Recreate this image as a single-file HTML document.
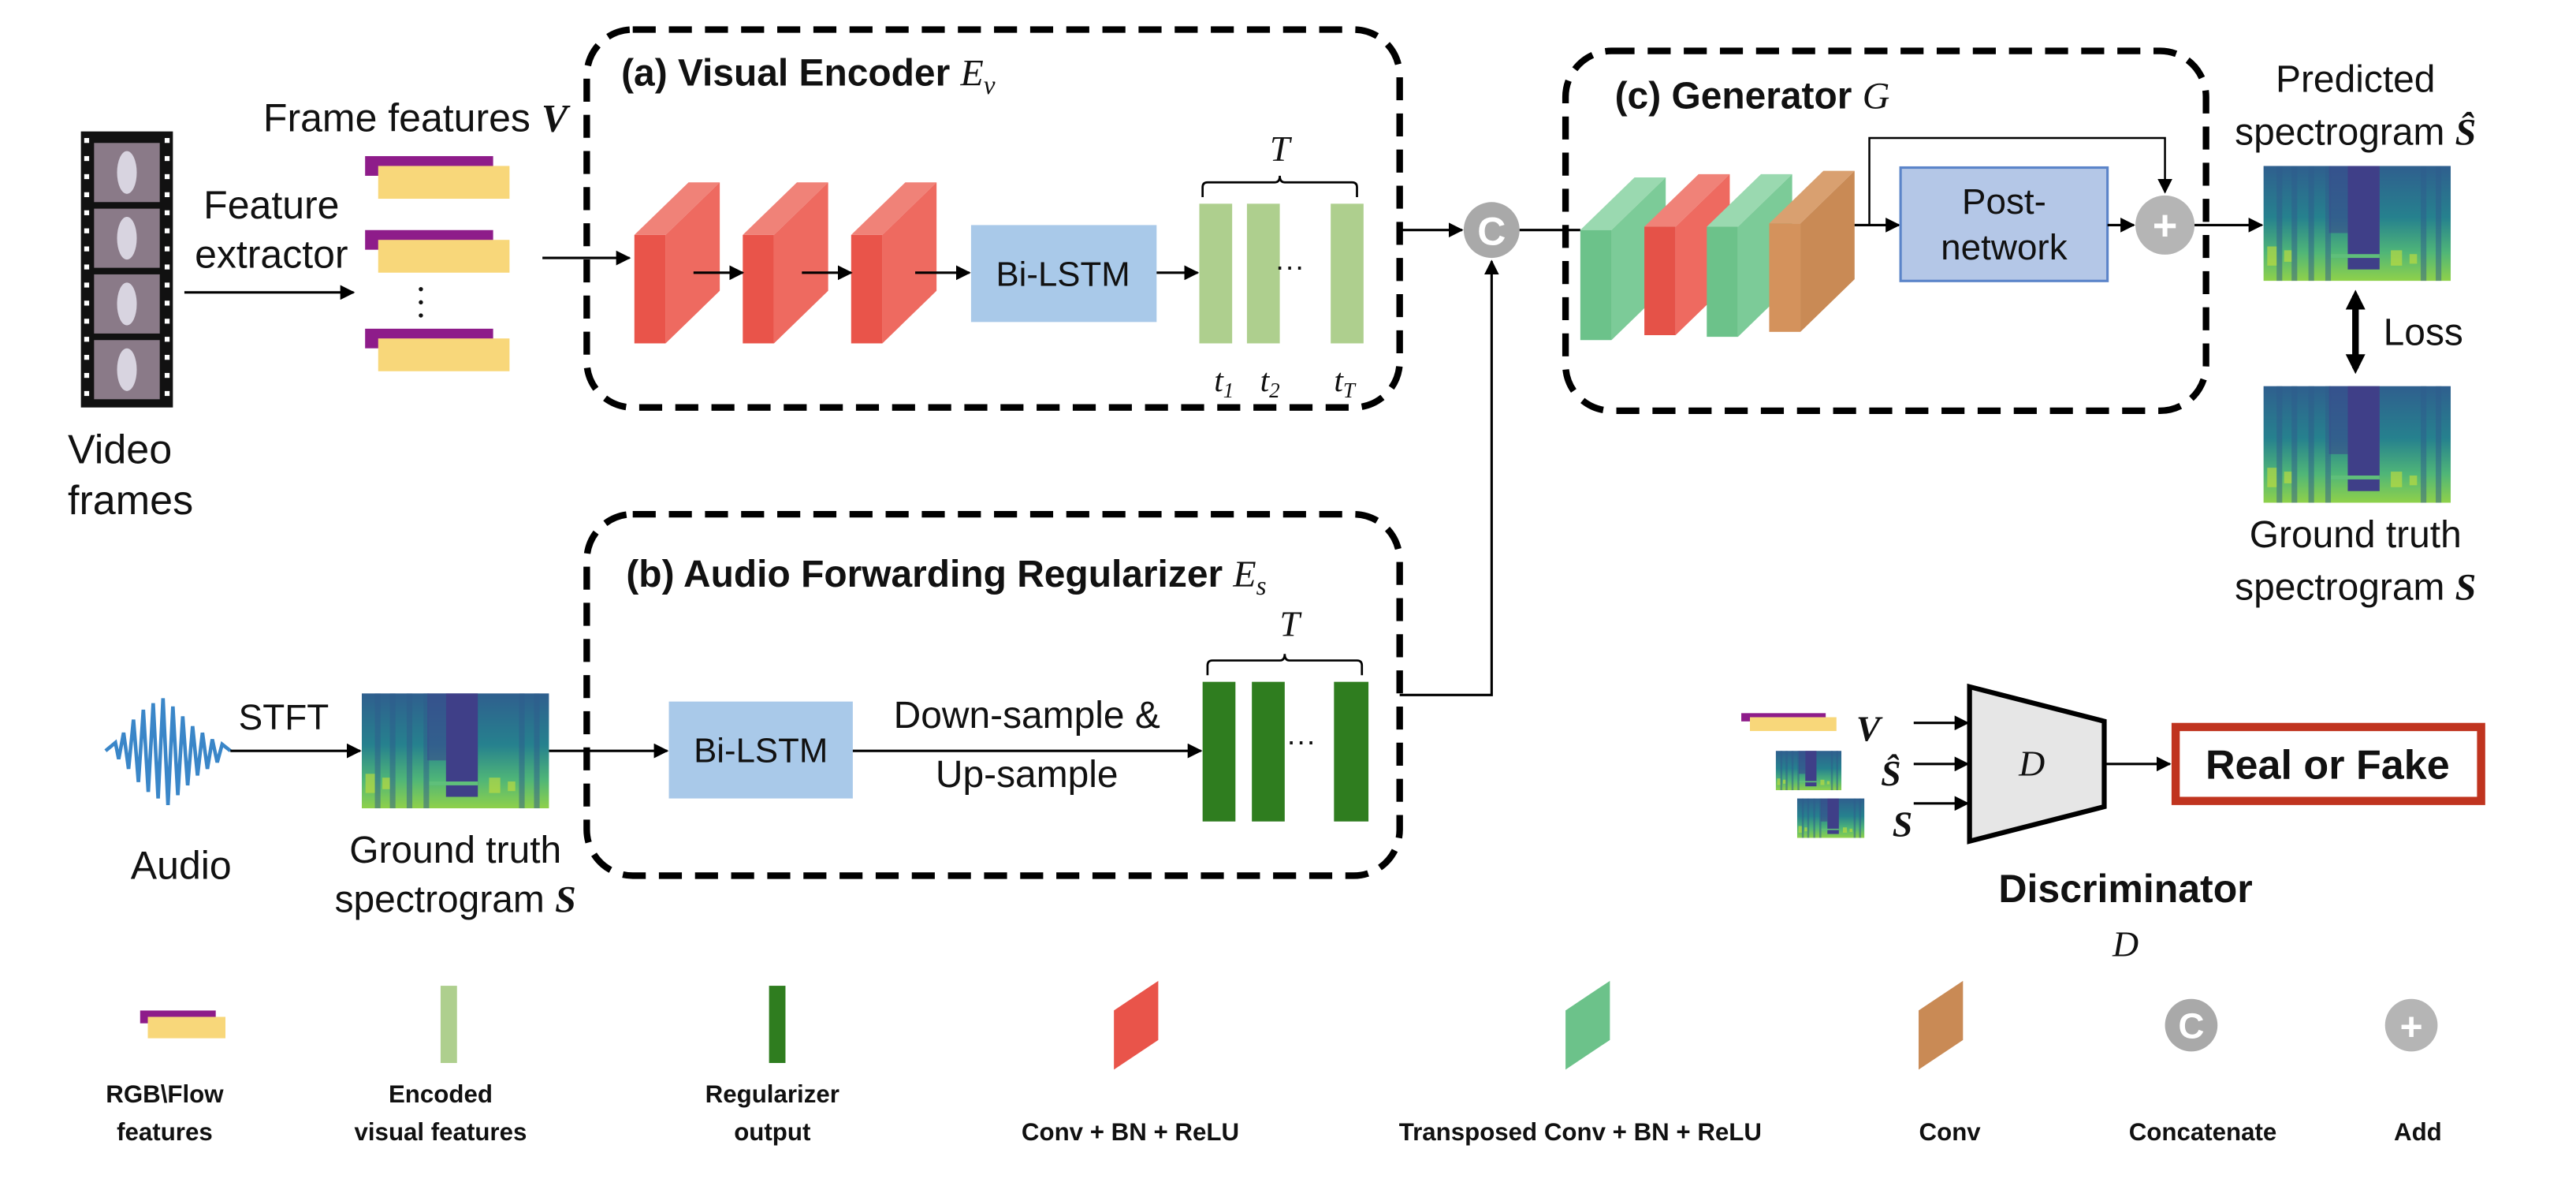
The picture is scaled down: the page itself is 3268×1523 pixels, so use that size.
<!DOCTYPE html>
<html><head><meta charset="utf-8"><style>
html,body{margin:0;padding:0;background:#fff;}
svg{display:block;}
text{font-family:"Liberation Sans",sans-serif;fill:#111;}
.m{font-family:"Liberation Serif",serif;font-style:italic;}
.b{font-weight:bold;}
</style></head><body>
<svg width="3268" height="1523" viewBox="0 0 1568 731" xmlns="http://www.w3.org/2000/svg">
<defs>
<marker id="ar" viewBox="0 0 10 10" refX="9" refY="5" markerWidth="9" markerHeight="9" markerUnits="userSpaceOnUse" orient="auto"><path d="M0,0 L10,5 L0,10 z" fill="#000"/></marker>
<marker id="arb" viewBox="0 0 10 10" refX="7" refY="5" markerWidth="12" markerHeight="12" markerUnits="userSpaceOnUse" orient="auto-start-reverse"><path d="M0,0 L10,5 L0,10 z" fill="#000"/></marker>
<linearGradient id="sg" x1="0" y1="0" x2="0" y2="1">
<stop offset="0" stop-color="#2f5f8e"/><stop offset="0.45" stop-color="#26818e"/><stop offset="0.75" stop-color="#4fb578"/><stop offset="1" stop-color="#8fd14a"/></linearGradient>
<symbol id="spec" viewBox="0 0 100 60" preserveAspectRatio="none">
<rect width="100" height="60" fill="url(#sg)"/>
<g fill="#2e5d8c" opacity="0.5"><rect x="7" y="0" width="3" height="60"/><rect x="15" y="0" width="3" height="60"/><rect x="24" y="0" width="3" height="60"/><rect x="33" y="0" width="3" height="60"/><rect x="84" y="0" width="3" height="60"/><rect x="92" y="0" width="3" height="60"/></g>
<rect x="45" y="0" width="17" height="54" fill="#3f3f88"/>
<rect x="35" y="0" width="10" height="35" fill="#3a4a8c" opacity="0.6"/>
<rect x="36" y="46" width="26" height="2" fill="#5fbf7a"/>
<g fill="#c8e03a" opacity="0.6"><rect x="2" y="42" width="5" height="10"/><rect x="11" y="44" width="4" height="6"/><rect x="68" y="44" width="6" height="8"/><rect x="78" y="46" width="4" height="5"/></g>
</symbol>
<symbol id="feat" viewBox="0 0 88 26" preserveAspectRatio="none">
<rect x="0" y="0" width="78" height="12" fill="#8e1c8a"/>
<rect x="8" y="6" width="80" height="20" fill="#f8d77a"/>
</symbol>
</defs>

<!-- Film strip -->
<rect x="49" y="80" width="56" height="168" fill="#111"/>
<g fill="#fff">
<rect x="51" y="84" width="3" height="3"/><rect x="51" y="95" width="3" height="3"/><rect x="51" y="106" width="3" height="3"/><rect x="51" y="117" width="3" height="3"/><rect x="51" y="128" width="3" height="3"/><rect x="51" y="139" width="3" height="3"/><rect x="51" y="150" width="3" height="3"/><rect x="51" y="161" width="3" height="3"/><rect x="51" y="172" width="3" height="3"/><rect x="51" y="183" width="3" height="3"/><rect x="51" y="194" width="3" height="3"/><rect x="51" y="205" width="3" height="3"/><rect x="51" y="216" width="3" height="3"/><rect x="51" y="227" width="3" height="3"/><rect x="51" y="238" width="3" height="3"/>
<rect x="100" y="84" width="3" height="3"/><rect x="100" y="95" width="3" height="3"/><rect x="100" y="106" width="3" height="3"/><rect x="100" y="117" width="3" height="3"/><rect x="100" y="128" width="3" height="3"/><rect x="100" y="139" width="3" height="3"/><rect x="100" y="150" width="3" height="3"/><rect x="100" y="161" width="3" height="3"/><rect x="100" y="172" width="3" height="3"/><rect x="100" y="183" width="3" height="3"/><rect x="100" y="194" width="3" height="3"/><rect x="100" y="205" width="3" height="3"/><rect x="100" y="216" width="3" height="3"/><rect x="100" y="227" width="3" height="3"/><rect x="100" y="238" width="3" height="3"/>
</g>
<g fill="#8a7a88"><rect x="57" y="87" width="40" height="36"/><rect x="57" y="127" width="40" height="36"/><rect x="57" y="167" width="40" height="36"/><rect x="57" y="207" width="40" height="36"/></g>
<g fill="#d8d4e0"><ellipse cx="77" cy="105" rx="6" ry="13"/><ellipse cx="77" cy="145" rx="6" ry="13"/><ellipse cx="77" cy="185" rx="6" ry="13"/><ellipse cx="77" cy="225" rx="6" ry="13"/></g>
<text x="41" y="282" font-size="25">Video</text>
<text x="41" y="313" font-size="25">frames</text>

<text x="160" y="80" font-size="24">Frame features <tspan class="m b">V</tspan></text>
<text x="165" y="133" font-size="24" text-anchor="middle">Feature</text>
<text x="165" y="163" font-size="24" text-anchor="middle">extractor</text>
<line x1="112" y1="178" x2="215" y2="178" stroke="#000" stroke-width="1.5" marker-end="url(#ar)"/>
<use href="#feat" x="222" y="95" width="88" height="26"/>
<use href="#feat" x="222" y="140" width="88" height="26"/>
<use href="#feat" x="222" y="200" width="88" height="26"/>
<g fill="#111"><circle cx="256" cy="176" r="1.3"/><circle cx="256" cy="184" r="1.3"/><circle cx="256" cy="192" r="1.3"/></g>
<line x1="330" y1="157" x2="383" y2="157" stroke="#000" stroke-width="1.5" marker-end="url(#ar)"/>

<!-- Visual encoder -->
<rect x="357" y="18" width="495" height="230" rx="28" fill="none" stroke="#000" stroke-width="4" stroke-dasharray="14 8"/>
<text x="378" y="52" font-size="23" class="b">(a) Visual Encoder <tspan class="m" font-weight="normal">E<tspan font-size="16" dy="5">v</tspan></tspan></text>
<g id="rb">
<polygon points="386,143 419,111 438,111 405,143" fill="#f08278"/>
<polygon points="405,143 438,111 438,177 405,209" fill="#ee6a60"/>
<rect x="386" y="143" width="19" height="66" fill="#e9544a"/>
</g>
<use href="#rb" x="66"/>
<use href="#rb" x="132"/>
<line x1="422" y1="166" x2="452" y2="166" stroke="#000" stroke-width="1.5" marker-end="url(#ar)"/>
<line x1="488" y1="166" x2="518" y2="166" stroke="#000" stroke-width="1.5" marker-end="url(#ar)"/>
<line x1="557" y1="166" x2="590" y2="166" stroke="#000" stroke-width="1.5" marker-end="url(#ar)"/>
<rect x="591" y="137" width="113" height="59" fill="#a9c9e9"/>
<text x="647" y="174" font-size="21" text-anchor="middle">Bi-LSTM</text>
<line x1="704" y1="166" x2="729" y2="166" stroke="#000" stroke-width="1.5" marker-end="url(#ar)"/>
<g fill="#aecf8e"><rect x="730" y="124" width="20" height="85"/><rect x="759" y="124" width="20" height="85"/><rect x="810" y="124" width="20" height="85"/></g>
<text x="785" y="168" font-size="18" text-anchor="middle">···</text>
<path d="M732,120 v-6 q0,-3 3,-3 h41 q3,0 3,-4 q0,4 3,4 h41 q3,0 3,3 v6" fill="none" stroke="#000" stroke-width="1.3"/>
<text x="779" y="98" font-size="22" class="m" text-anchor="middle">T</text>
<text x="739" y="238" font-size="20" class="m">t<tspan font-size="13" dy="4">1</tspan></text>
<text x="767" y="238" font-size="20" class="m">t<tspan font-size="13" dy="4">2</tspan></text>
<text x="812" y="238" font-size="20" class="m">t<tspan font-size="13" dy="4">T</tspan></text>

<!-- Concat -->
<line x1="852" y1="140" x2="890" y2="140" stroke="#000" stroke-width="1.5" marker-end="url(#ar)"/>
<circle cx="908" cy="140" r="17" fill="#a9a9a9"/>
<text x="908" y="149" font-size="24" class="b" style="fill:#fff" text-anchor="middle">C</text>
<polyline points="852,423 908,423 908,159" fill="none" stroke="#000" stroke-width="1.5" marker-end="url(#ar)"/>
<line x1="925" y1="140" x2="962" y2="140" stroke="#000" stroke-width="1.5"/>

<!-- Generator -->
<rect x="953" y="31" width="390" height="219" rx="28" fill="none" stroke="#000" stroke-width="4" stroke-dasharray="14 8"/>
<text x="983" y="66" font-size="23" class="b">(c) Generator <tspan class="m" font-weight="normal">G</tspan></text>
<g id="gb">
<polygon points="962,140 995,108 1014,108 981,140" fill="#9ad9b0"/>
<polygon points="981,140 1014,108 1014,175 981,207" fill="#7ccb98"/>
<rect x="962" y="140" width="19" height="67" fill="#6cc28a"/>
</g>
<g>
<polygon points="1001,138 1034,106 1053,106 1020,138" fill="#f08278"/>
<polygon points="1020,138 1053,106 1053,172 1020,204" fill="#ee6a60"/>
<rect x="1001" y="138" width="19" height="66" fill="#e55248"/>
</g>
<use href="#gb" x="77" y="-2"/>
<g>
<polygon points="1077,136 1110,104 1129,104 1096,136" fill="#d9a070"/>
<polygon points="1096,136 1129,104 1129,170 1096,202" fill="#c98a55"/>
<rect x="1077" y="136" width="19" height="66" fill="#d4925c"/>
</g>
<line x1="1129" y1="137" x2="1156" y2="137" stroke="#000" stroke-width="1.5" marker-end="url(#ar)"/>
<polyline points="1138,137 1138,84 1318,84 1318,117" fill="none" stroke="#000" stroke-width="1.2" marker-end="url(#ar)"/>
<rect x="1157" y="102" width="126" height="69" fill="#b4c7e7" stroke="#5b84c9" stroke-width="1.5"/>
<text x="1220" y="130" font-size="22" text-anchor="middle">Post-</text>
<text x="1220" y="158" font-size="22" text-anchor="middle">network</text>
<line x1="1283" y1="137" x2="1299" y2="137" stroke="#000" stroke-width="1.5" marker-end="url(#ar)"/>
<circle cx="1318" cy="137" r="18" fill="#b5b5b5"/>
<text x="1318" y="146" font-size="26" class="b" style="fill:#fff" text-anchor="middle">+</text>
<line x1="1336" y1="137" x2="1377" y2="137" stroke="#000" stroke-width="1.5" marker-end="url(#ar)"/>

<text x="1434" y="56" font-size="23" text-anchor="middle">Predicted</text>
<text x="1434" y="88" font-size="23" text-anchor="middle">spectrogram <tspan class="m b">Ŝ</tspan></text>
<use href="#spec" x="1378" y="101" width="114" height="70"/>
<line x1="1434" y1="180" x2="1434" y2="224" stroke="#000" stroke-width="4" marker-start="url(#arb)" marker-end="url(#arb)"/>
<text x="1451" y="210" font-size="23">Loss</text>
<use href="#spec" x="1378" y="235" width="114" height="71"/>
<text x="1434" y="333" font-size="23" text-anchor="middle">Ground truth</text>
<text x="1434" y="365" font-size="23" text-anchor="middle">spectrogram <tspan class="m b">S</tspan></text>

<!-- Audio -->
<g stroke="#3a86c8" stroke-width="2.2" fill="none">
<path d="M64,457 L70,452 L72,462 L75,446 L78,468 L81,438 L84,476 L87,432 L90,482 L93,428 L96,486 L99,425 L102,490 L105,430 L108,484 L111,436 L114,478 L117,442 L120,472 L123,446 L126,468 L129,450 L132,464 L135,453 L140,457"/>
</g>
<text x="110" y="535" font-size="24" text-anchor="middle">Audio</text>
<text x="145" y="444" font-size="22">STFT</text>
<line x1="140" y1="457" x2="219" y2="457" stroke="#000" stroke-width="1.5" marker-end="url(#ar)"/>
<use href="#spec" x="220" y="422" width="114" height="70"/>
<text x="277" y="525" font-size="23" text-anchor="middle">Ground truth</text>
<text x="277" y="555" font-size="23" text-anchor="middle">spectrogram <tspan class="m b">S</tspan></text>
<line x1="334" y1="457" x2="406" y2="457" stroke="#000" stroke-width="1.5" marker-end="url(#ar)"/>

<!-- Regularizer -->
<rect x="357" y="313" width="495" height="220" rx="28" fill="none" stroke="#000" stroke-width="4" stroke-dasharray="14 8"/>
<text x="381" y="357" font-size="23" class="b">(b) Audio Forwarding Regularizer <tspan class="m" font-weight="normal">E<tspan font-size="16" dy="5">s</tspan></tspan></text>
<rect x="407" y="427" width="112" height="59" fill="#a9c9e9"/>
<text x="463" y="464" font-size="21" text-anchor="middle">Bi-LSTM</text>
<line x1="519" y1="457" x2="731" y2="457" stroke="#000" stroke-width="1.5" marker-end="url(#ar)"/>
<text x="625" y="443" font-size="23" text-anchor="middle">Down-sample &amp;</text>
<text x="625" y="479" font-size="23" text-anchor="middle">Up-sample</text>
<g fill="#2f7d1f"><rect x="732" y="415" width="20" height="85"/><rect x="762" y="415" width="20" height="85"/><rect x="812" y="415" width="21" height="85"/></g>
<text x="792" y="457" font-size="18" text-anchor="middle">···</text>
<path d="M735,411 v-6 q0,-3 3,-3 h41 q3,0 3,-4 q0,4 3,4 h41 q3,0 3,3 v6" fill="none" stroke="#000" stroke-width="1.3"/>
<text x="785" y="387" font-size="22" class="m" text-anchor="middle">T</text>

<!-- Discriminator -->
<use href="#feat" x="1060" y="434" width="58" height="11"/>
<text x="1130" y="451" font-size="22" class="m b">V</text>
<use href="#spec" x="1081" y="457" width="40" height="24"/>
<use href="#spec" x="1094" y="486" width="41" height="24"/>
<text x="1145" y="478" font-size="22" class="m b">Ŝ</text>
<text x="1152" y="509" font-size="22" class="m b">S</text>
<line x1="1165" y1="440" x2="1198" y2="440" stroke="#000" stroke-width="1.5" marker-end="url(#ar)"/>
<line x1="1165" y1="465" x2="1198" y2="465" stroke="#000" stroke-width="1.5" marker-end="url(#ar)"/>
<line x1="1165" y1="489" x2="1198" y2="489" stroke="#000" stroke-width="1.5" marker-end="url(#ar)"/>
<polygon points="1199,418 1281,439 1281,491 1199,512" fill="#e6e6e6" stroke="#000" stroke-width="3"/>
<text x="1229" y="472" font-size="22" class="m">D</text>
<line x1="1281" y1="465" x2="1321" y2="465" stroke="#000" stroke-width="1.5" marker-end="url(#ar)"/>
<rect x="1324.5" y="442.5" width="186" height="45" fill="#fff" stroke="#c0341f" stroke-width="5"/>
<text x="1417" y="474" font-size="25" class="b" text-anchor="middle">Real or Fake</text>
<text x="1294" y="549" font-size="24" class="b" text-anchor="middle">Discriminator</text>
<text x="1294" y="582" font-size="22" class="m" text-anchor="middle">D</text>

<!-- Legend -->
<use href="#feat" x="85" y="615" width="52" height="17"/>
<rect x="268" y="600" width="10" height="47" fill="#aecf8e"/>
<rect x="468" y="600" width="10" height="47" fill="#2f7d1f"/>
<polygon points="678,615 705,597 705,633 678,651" fill="#e9544a"/>
<polygon points="953,615 980,597 980,633 953,651" fill="#6cc28a"/>
<polygon points="1168,615 1195,597 1195,633 1168,651" fill="#c98a55"/>
<circle cx="1334" cy="624" r="16" fill="#a9a9a9"/>
<text x="1334" y="632" font-size="22" class="b" style="fill:#fff" text-anchor="middle">C</text>
<circle cx="1468" cy="624" r="16" fill="#b5b5b5"/>
<text x="1468" y="633" font-size="24" class="b" style="fill:#fff" text-anchor="middle">+</text>
<g font-size="15" font-weight="bold" text-anchor="middle">
<text x="100" y="671">RGB\Flow</text><text x="100" y="694">features</text>
<text x="268" y="671">Encoded</text><text x="268" y="694">visual features</text>
<text x="470" y="671">Regularizer</text><text x="470" y="694">output</text>
<text x="688" y="694">Conv + BN + ReLU</text>
<text x="962" y="694">Transposed Conv + BN + ReLU</text>
<text x="1187" y="694">Conv</text>
<text x="1341" y="694">Concatenate</text>
<text x="1472" y="694">Add</text>
</g>
</svg>
</body></html>
